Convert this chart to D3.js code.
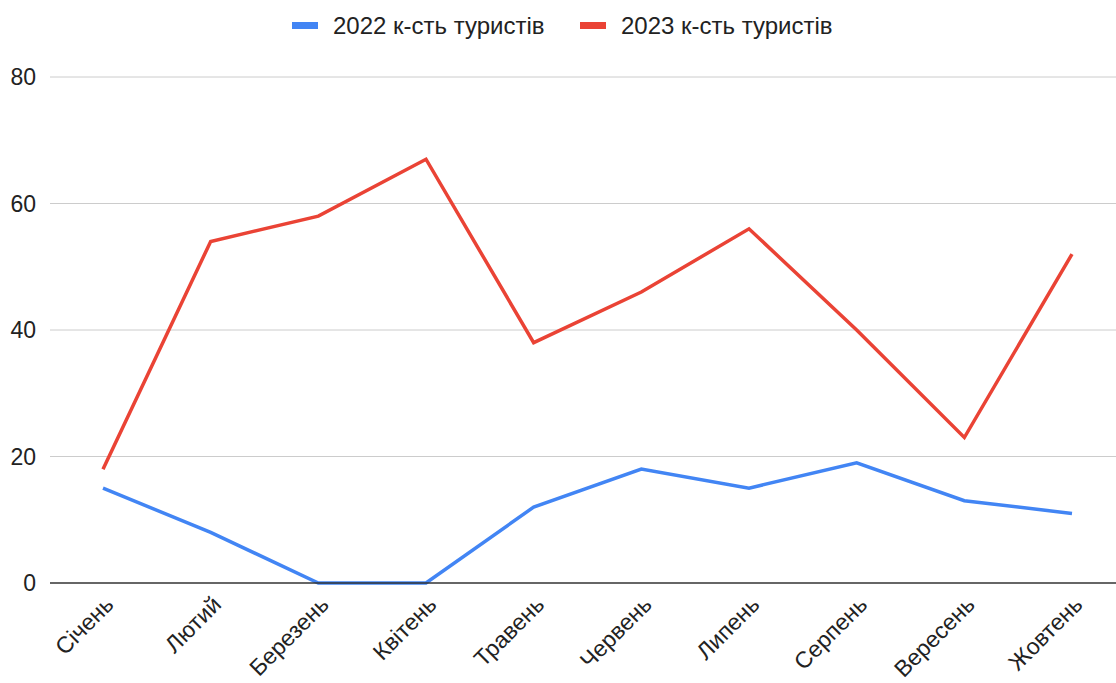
<!DOCTYPE html>
<html><head><meta charset="utf-8">
<script src="https://cdn.jsdelivr.net/npm/d3@7"></script>
<style>body{margin:0;background:#fff}svg{display:block}text{font-family:"Liberation Sans",Arial,sans-serif}</style>
</head><body>
<script>
const months = ["Січень","Лютий","Березень","Квітень","Травень","Червень","Липень","Серпень","Вересень","Жовтень"];
const tourists2022 = [15, 8, 0, 0, 12, 18, 15, 19, 13, 11];
const tourists2023 = [18, 54, 58, 67, 38, 46, 56, 40, 23, 52];
const seriesNames = ["2022 к-сть туристів", "2023 к-сть туристів"];
const seriesColors = ["#4285F4", "#EA4335"];
const yTicks = [0, 20, 40, 60, 80];

const W = 1116, H = 683;
const svg = d3.select("body").append("svg").attr("width", W).attr("height", H);
const x = d3.scalePoint().domain(months).range([103, 1072]);
const y = d3.scaleLinear().domain([0, 80]).range([583, 77]);

// gridlines
svg.append("g").selectAll("line").data(yTicks.filter(d => d !== 0)).join("line")
  .attr("x1", 50).attr("x2", W).attr("y1", d => y(d)).attr("y2", d => y(d))
  .attr("stroke", "#cccccc").attr("stroke-width", 1);

// y labels
svg.append("g").selectAll("text").data(yTicks).join("text")
  .attr("x", 36).attr("y", d => y(d)).attr("dy", "0.35em")
  .attr("text-anchor", "end").attr("font-size", 23).attr("fill", "#222")
  .text(d => d);

// lines
const series = [tourists2022, tourists2023];
const line = d3.line().x((d, i) => x(months[i])).y(d => y(d));
series.forEach((s, k) => {
  svg.append("path").datum(s).attr("d", line).attr("fill", "none")
    .attr("stroke", seriesColors[k]).attr("stroke-width", 3.5)
    .attr("stroke-linejoin", "miter");
});

// zero axis line
svg.append("line").attr("x1", 50).attr("x2", W).attr("y1", y(0)).attr("y2", y(0))
  .attr("stroke", "#333").attr("stroke-width", 1.5);

// x labels
svg.append("g").selectAll("text").data(months).join("text")
  .attr("transform", d => `translate(${x(d) + 12},${606}) rotate(-45)`)
  .attr("text-anchor", "end").attr("font-size", 23).attr("fill", "#222")
  .text(d => d);

// legend
const legendX = [292, 580];
seriesNames.forEach((n, k) => {
  svg.append("rect").attr("x", legendX[k]).attr("y", 22).attr("width", 26).attr("height", 7)
    .attr("fill", seriesColors[k]);
  svg.append("text").attr("x", legendX[k] + 41).attr("y", 26).attr("dy", "0.35em")
    .attr("font-size", 24).attr("fill", "#222").text(n);
});
</script>
</body></html>
